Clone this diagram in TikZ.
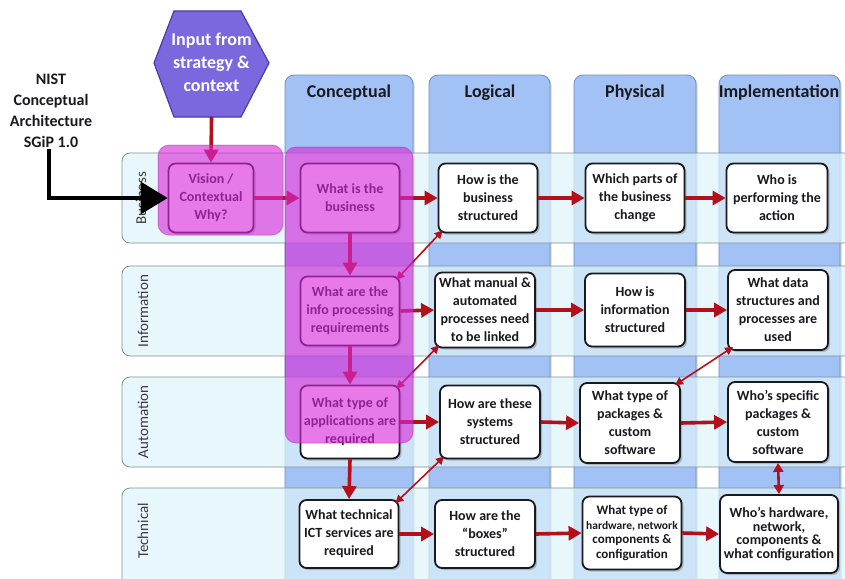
\documentclass[tikz,border=0pt]{standalone}
\usepackage{fontspec}
\setmainfont{Carlito}
\usetikzlibrary{shadows,arrows.meta}
\definecolor{colblue}{RGB}{162,193,245}
\definecolor{colbord}{RGB}{110,140,200}
\definecolor{bandfill}{RGB}{222,244,250}
\definecolor{bandbord}{RGB}{125,145,150}
\definecolor{arrred}{RGB}{180,16,28}
\definecolor{hexfill}{RGB}{123,104,222}
\definecolor{hexbord}{RGB}{78,60,160}
\definecolor{hilite}{RGB}{218,40,218}
\definecolor{txt}{RGB}{25,25,30}
\tikzset{
  colbox/.style={draw=colbord, line width=0.8pt, fill=colblue, rounded corners=9pt,
     drop shadow={shadow xshift=1.5pt, shadow yshift=-1pt, opacity=0.35}},
  colhead/.style={font=\fontsize{18}{20}\selectfont\bfseries, text=txt},
  band/.style={draw=bandbord, line width=0.8pt, fill=bandfill, fill opacity=0.7, rounded corners=8pt},
  rowlabel/.style={rotate=90, font=\fontsize{15}{17}\selectfont, text=txt!85},
  box/.style={draw=txt, line width=1.8pt, fill=white, rounded corners=7pt, align=center,
     inner sep=1pt, text=txt, font=\fontsize{14}{18}\selectfont\bfseries,
     drop shadow={shadow xshift=2pt, shadow yshift=-2pt, opacity=0.45}},
  flow/.style={draw=arrred, line width=3.6pt, -{Triangle[length=13pt,width=14pt]}},
  dbl/.style={draw=arrred, line width=1.6pt, {Triangle[length=8pt,width=8pt]}-{Triangle[length=8pt,width=8pt]}},
  hl/.style={fill=hilite, fill opacity=0.62, draw=hilite!70!black, draw opacity=0.35, line width=1pt, rounded corners=11pt},
}
\begin{document}
\begin{tikzpicture}[x=1pt,y=-1pt]
\useasboundingbox (0,0) rectangle (845,578);
\clip (0,0) rectangle (845,578);
\fill[white] (0,0) rectangle (845,578);

% columns
\draw[colbox] (285,75) rectangle (413,600);
\draw[colbox] (429,75) rectangle (550,600);
\draw[colbox] (574,75) rectangle (696,600);
\draw[colbox] (719,75) rectangle (840,600);
\node[colhead] (hcon) at (349,93) {Conceptual};
\node[colhead] (hlog) at (490,93) {Logical};
\node[colhead] (hphy) at (635,93) {Physical};
\node[colhead] (himp) at (779,93) {Implementation};

% bands
\draw[band] (122,153) rectangle (860,243);
\draw[band] (122,266) rectangle (860,356);
\draw[band] (122,377) rectangle (860,467);
\draw[band] (122,488) rectangle (860,590);
\node[rowlabel] (lbus) at (141,198) {Business};
\node[rowlabel] (linf) at (143,311) {Information};
\node[rowlabel] (laut) at (143,422) {Automation};
\node[rowlabel] (ltec) at (143,531) {Technical};

% hexagon
\filldraw[fill=hexfill, draw=hexbord, line width=1.2pt]
  (154,63) -- (174,11) -- (241,11) -- (269,63) -- (241,117) -- (174,117) -- cycle;
\node[font=\fontsize{18}{23}\selectfont\bfseries, text=white, align=center] (hex) at (211.5,62) {Input from\\strategy \&\\context};
\coordinate (hexbot) at (211.5,117);

% boxes
\node[box, minimum width=85pt, minimum height=69pt] (vis) at (211,198) {Vision /\\Contextual\\Why?};
\node[box, minimum width=99pt, minimum height=69pt] (wb) at (350,198) {What is the\\business};
\node[box, minimum width=99pt, minimum height=69pt] (hb) at (488,198) {How is the\\business\\structured};
\node[box, minimum width=99pt, minimum height=69pt] (pc) at (635,198) {Which parts of\\the business\\change};
\node[box, minimum width=101pt, minimum height=69pt] (wp) at (777,198) {Who is\\performing the\\action};

\node[box, minimum width=99pt, minimum height=69pt] (ip) at (350,311) {What are the\\info processing\\requirements};
\node[box, minimum width=100pt, minimum height=75pt] (mp) at (485,310) {What manual \&\\automated\\processes need\\to be linked};
\node[box, minimum width=100pt, minimum height=73pt] (hi) at (635,310) {How is\\information\\structured};
\node[box, minimum width=100pt, minimum height=80pt] (ds) at (778,310) {What data\\structures and\\processes are\\used};

\node[box, minimum width=99pt, minimum height=73pt] (ap) at (350,422) {What type of\\applications are\\required};
\node[box, minimum width=100pt, minimum height=73pt] (hs) at (490,422) {How are these\\systems\\structured};
\node[box, minimum width=100pt, minimum height=80pt] (pk) at (630,423) {What type of\\packages \&\\custom\\software};
\node[box, minimum width=100pt, minimum height=80pt] (ws) at (778,422) {Who’s specific\\packages \&\\custom\\software};

\node[box, minimum width=99pt, minimum height=68pt] (ict) at (349,534) {What technical\\ICT services are\\required};
\node[box, minimum width=100pt, minimum height=68pt] (bx) at (485,534) {How are the\\“boxes”\\structured};
\node[box, minimum width=99pt, minimum height=73pt, font=\fontsize{13}{14.5}\selectfont\bfseries] (hw) at (632,533)
  {What type of\\{\fontsize{11.5}{12}\selectfont hardware, network}\\components \&\\configuration};
\node[box, minimum width=118pt, minimum height=78pt, font=\fontsize{14}{13.8}\selectfont\bfseries] (wh) at (779,534)
  {Who’s hardware,\\network,\\components \&\\what configuration};

% flows
\draw[flow] (hexbot) -- (vis.north);
\draw[flow] (vis.east) -- (wb.west);
\draw[flow] (wb.east) -- (hb.west);
\draw[flow] (hb.east) -- (pc.west);
\draw[flow] (pc.east) -- (wp.west);
\draw[flow] (wb.south) -- (ip.north);
\draw[flow] (ip.south) -- (ap.north);
\draw[flow] (ap.south) -- (ict.north);
\draw[flow] (ip.east) -- (mp.west);
\draw[flow] (mp.east) -- (hi.west);
\draw[flow] (hi.east) -- (ds.west);
\draw[flow] (ap.east) -- (hs.west);
\draw[flow] (hs.east) -- (pk.west);
\draw[flow] (pk.east) -- (ws.west);
\draw[flow] (ict.east) -- (bx.west);
\draw[flow] (bx.east) -- (hw.west);
\draw[flow] (hw.east) -- (wh.west);

% diagonal links
\draw[dbl] ([shift={(-4,4)}]ip.north east) -- ([shift={(5,-3)}]hb.south west);
\draw[dbl] ([shift={(-4,4)}]ap.north east) -- ([shift={(5,-3)}]mp.south west);
\draw[dbl] ([shift={(-4,4)}]ict.north east) -- ([shift={(5,-3)}]hs.south west);
\draw[dbl] ([shift={(-6,3)}]pk.north east) -- ([shift={(6,-4)}]ds.south west);
\draw[draw=arrred, line width=2.6pt, {Triangle[length=9pt,width=10pt]}-{Triangle[length=9pt,width=10pt]}] (ws.south) -- (wh.north);

% highlights
\draw[hl] (158,145) rectangle (283,235);
\draw[hl] (285,147) rectangle (413,443);

% NIST
\node[font=\fontsize{16}{21}\selectfont\bfseries, text=txt, align=center] (nist) at (51,111) {NIST\\Conceptual\\Architecture\\SGiP 1.0};
\draw[line width=3.6pt, -{Triangle[length=27pt,width=32pt]}] ([xshift=-2pt,yshift=2pt]nist.south) |- (vis.west);
\end{tikzpicture}
\end{document}
